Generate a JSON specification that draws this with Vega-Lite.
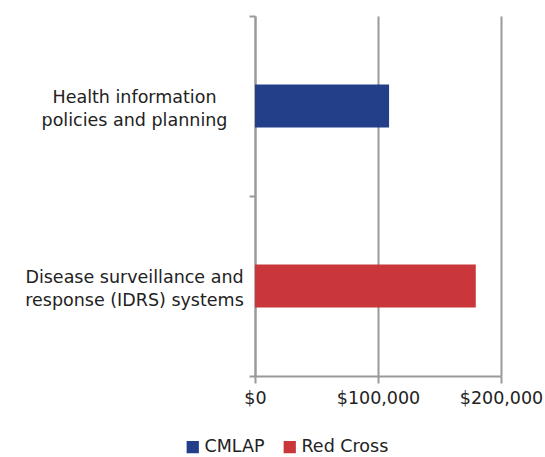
{
  "$schema": "https://vega.github.io/schema/vega-lite/v6.json",
  "width": 246,
  "height": 360,
  "autosize": {"type": "none"},
  "padding": {"left": 255, "top": 16, "right": 44, "bottom": 81},
  "background": "white",
  "config": {
    "font": "DejaVu Sans",
    "view": {"stroke": null}
  },
  "data": {
    "values": [
      {"category": "Health information\npolicies and planning", "org": "CMLAP", "amount": 109000},
      {"category": "Disease surveillance and\nresponse (IDRS) systems", "org": "Red Cross", "amount": 179500}
    ]
  },
  "mark": {"type": "bar", "size": 43},
  "encoding": {
    "y": {
      "field": "category",
      "type": "nominal",
      "sort": null,
      "scale": {"paddingInner": 0, "paddingOuter": 0},
      "axis": {
        "title": null,
        "tickBand": "extent",
        "labelExpr": "split(datum.label, '\\n')",
        "labelFont": "DejaVu Sans",
        "labelFontSize": 17.5,
        "labelColor": "#222222",
        "labelLineHeight": 23,
        "labelPadding": 115,
        "labelOffset": -9,
        "labelAlign": "center",
        "labelLimit": 300,
        "domainColor": "#9a9a9a",
        "domainWidth": 2,
        "tickColor": "#9a9a9a",
        "tickWidth": 2,
        "tickSize": 6,
        "grid": false
      }
    },
    "x": {
      "field": "amount",
      "type": "quantitative",
      "scale": {"domain": [0, 200000], "nice": false},
      "axis": {
        "title": null,
        "values": [0, 100000, 200000],
        "format": "$,.0f",
        "labelFont": "DejaVu Sans",
        "labelFontSize": 17.5,
        "labelColor": "#222222",
        "labelPadding": 6,
        "labelFlush": false,
        "labelOverlap": false,
        "grid": true,
        "gridColor": "#9a9a9a",
        "gridWidth": 2,
        "domainColor": "#9a9a9a",
        "domainWidth": 2,
        "tickColor": "#9a9a9a",
        "tickWidth": 2,
        "tickSize": 7
      }
    },
    "color": {
      "field": "org",
      "type": "nominal",
      "scale": {"domain": ["CMLAP", "Red Cross"], "range": ["#243F8A", "#C9373A"]},
      "legend": {
        "title": null,
        "orient": "none",
        "direction": "horizontal",
        "legendX": -71,
        "legendY": 422,
        "symbolType": "square",
        "symbolSize": 150,
        "symbolStrokeWidth": 0,
        "labelFont": "DejaVu Sans",
        "labelFontSize": 17.5,
        "labelColor": "#222222",
        "labelOffset": 3,
        "columnPadding": 16
      }
    }
  }
}
